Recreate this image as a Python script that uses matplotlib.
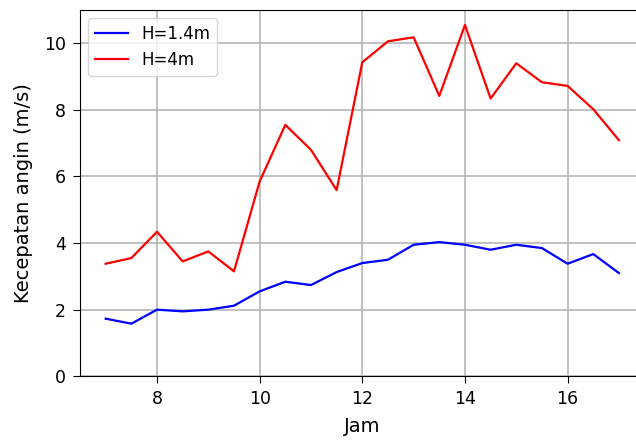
#### ライブラリのインポート ####
import numpy as np
import matplotlib.pyplot as plt

#### データ ####
# jam: 時刻, v_14: H=1.4m の風速, v_4: H=4m の風速
jam = [7, 7.5, 8, 8.5, 9, 9.5, 10, 10.5, 11, 11.5, 12, 12.5, 13, 13.5,
       14, 14.5, 15, 15.5, 16, 16.5, 17]
v_14 = [1.73, 1.58, 2.0, 1.95, 2.0, 2.12, 2.55, 2.84, 2.74, 3.13, 3.4,
        3.5, 3.95, 4.03, 3.95, 3.8, 3.95, 3.85, 3.38, 3.67, 3.1]
v_4 = [3.38, 3.55, 4.34, 3.45, 3.75, 3.15, 5.85, 7.55, 6.8, 5.59, 9.43,
       10.06, 10.18, 8.42, 10.55, 8.34, 9.4, 8.83, 8.72, 8.02, 7.09]

#### グラフの作成 ####
fig = plt.figure(figsize=(6.36, 4.4), dpi=100)
ax = fig.add_axes([0.1258, 0.1448, 0.8877, 0.8325])

ax.plot(jam, v_14, color="blue", lw=1.6, label="H=1.4m")
ax.plot(jam, v_4, color="red", lw=1.6, label="H=4m")

# ラベルと目盛の設定
ax.set_xlim(6.5, 17.5)
ax.set_ylim(0, 11)
ax.set_xlabel("Jam", fontsize=14, labelpad=6)
ax.set_ylabel("Kecepatan angin (m/s)", fontsize=14, labelpad=8)
ax.tick_params(labelsize=12.5, length=5, pad=5)
ax.grid(True, color="#b0b0b0", lw=1.1)
ax.legend(loc="upper left", fontsize=12)

plt.savefig("out.png", dpi=100)
